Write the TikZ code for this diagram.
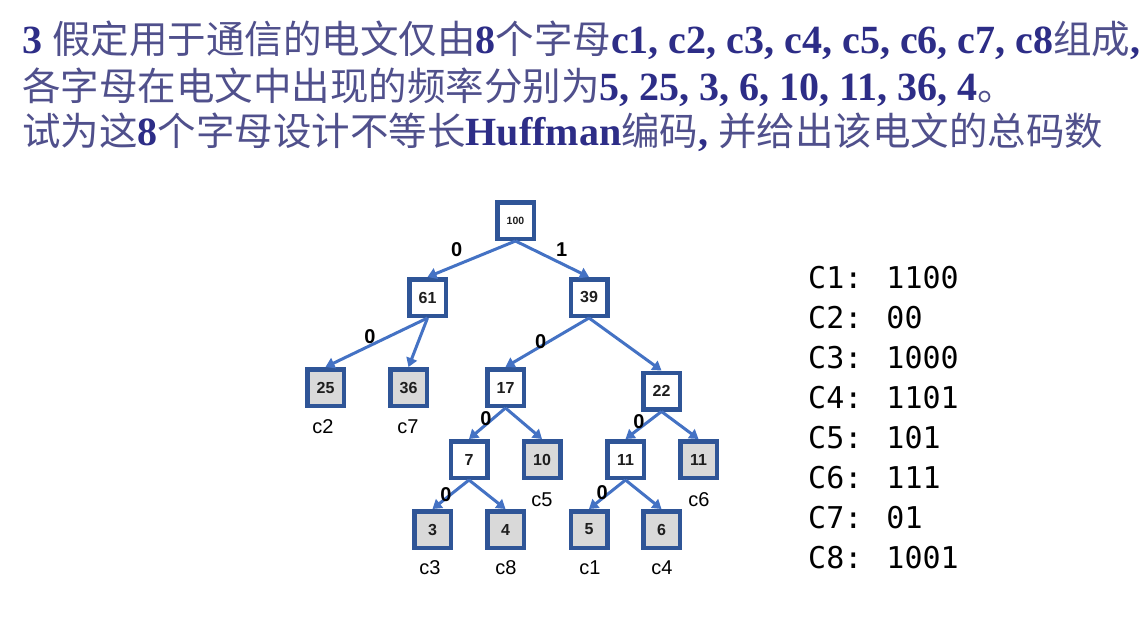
\documentclass[tikz,border=0pt]{standalone}
\usepackage{fontspec}
\setmainfont{Liberation Sans}
\newfontfamily\cjk{Noto Sans CJK SC}
\newfontfamily\latfont{Liberation Serif}
\newfontfamily\monof{DejaVu Sans Mono}
\usetikzlibrary{arrows.meta}
\definecolor{latc}{RGB}{45,45,135}
\definecolor{cjkc}{RGB}{80,80,140}
\definecolor{boxblue}{RGB}{47,85,151}
\definecolor{edgeblue}{RGB}{68,114,196}
\definecolor{leafgray}{RGB}{217,217,217}
\definecolor{numc}{RGB}{30,30,30}
\newcommand\latb[1]{{\latfont\bfseries\fontsize{40}{40}\selectfont\color{latc}#1}}
\tikzset{
  hbox/.style={draw=boxblue, line width=4.5pt, minimum size=36.5pt, inner sep=0pt,
    fill=white, text=numc, font=\bfseries\fontsize{16}{16}\selectfont},
  hleaf/.style={hbox, fill=leafgray},
  hedge/.style={draw=edgeblue, line width=3pt, -{Triangle[length=9pt,width=11pt]}},
  elab/.style={font=\bfseries\fontsize{20}{20}\selectfont, inner sep=0pt},
  clab/.style={font=\fontsize{20}{20}\selectfont, inner sep=0pt},
  codel/.style={anchor=base west, inner sep=0pt, font=\monof\fontsize{30}{30}\selectfont},
  titlel/.style={anchor=base west, inner sep=0pt, font=\cjk\fontsize{38.5}{38.5}\selectfont, text=cjkc}
}
\begin{document}
\begin{tikzpicture}[x=1pt,y=-1pt]
\useasboundingbox[fill=white] (0,0) rectangle (1140,642);
% title
\node[titlel] (t1) at (22,53) {\latb{3 }假定用于通信的电文仅由\latb{8}个字母\latb{c1, c2, c3, c4, c5, c6, c7, c8}组成\latb{,}};
\node[titlel] (t2) at (22,100) {各字母在电文中出现的频率分别为\latb{5, 25, 3, 6, 10, 11, 36, 4}。};
\node[titlel] (t3) at (22,145) {试为这\latb{8}个字母设计不等长\latb{Huffman}编码\latb{, }并给出该电文的总码数};
% tree nodes
\node[hbox, font=\bfseries\fontsize{10.5}{10.5}\selectfont] (n100) at (515.5,220.5) {100};
\node[hbox] (n61) at (427.5,297.5) {61};
\node[hbox] (n39) at (589,297.5) {39};
\node[hleaf] (n25) at (325.5,387.5) {25};
\node[hleaf] (n36) at (408.5,387.5) {36};
\node[hbox] (n17) at (505.5,387.5) {17};
\node[hbox] (n22) at (661.5,391) {22};
\node[hbox] (n7) at (469,459.5) {7};
\node[hleaf] (n10) at (542,459.5) {10};
\node[hbox] (n11a) at (625.5,459.5) {11};
\node[hleaf] (n11b) at (698.5,459.5) {11};
\node[hleaf] (n3) at (432.5,529.5) {3};
\node[hleaf] (n4) at (505.5,529.5) {4};
\node[hleaf] (n5) at (589,529.5) {5};
\node[hleaf] (n6) at (661.5,529.5) {6};
% edges
\draw[hedge] (n100.south) -- (n61.north);
\draw[hedge] (n100.south) -- (n39.north);
\draw[hedge] (n61.south) -- (n25.north);
\draw[hedge] (n61.south) -- (n36.north);
\draw[hedge] (n39.south) -- (n17.north);
\draw[hedge] (n39.south) -- (n22.north);
\draw[hedge] (n17.south) -- (n7.north);
\draw[hedge] (n17.south) -- (n10.north);
\draw[hedge] (n22.south) -- (n11a.north);
\draw[hedge] (n22.south) -- (n11b.north);
\draw[hedge] (n7.south) -- (n3.north);
\draw[hedge] (n7.south) -- (n4.north);
\draw[hedge] (n11a.south) -- (n5.north);
\draw[hedge] (n11a.south) -- (n6.north);
% edge labels
\node[elab] (e1) at (456.7,250) {0};
\node[elab] (e2) at (561.7,250) {1};
\node[elab] (e3) at (370,337) {0};
\node[elab] (e4) at (540.7,342) {0};
\node[elab] (e5) at (486,419) {0};
\node[elab] (e6) at (639,422) {0};
\node[elab] (e7) at (446,495) {0};
\node[elab] (e8) at (602.3,493) {0};
% leaf labels
\node[clab] (l2) at (323,427) {c2};
\node[clab] (l7) at (408,427) {c7};
\node[clab] (l5) at (542,500) {c5};
\node[clab] (l6) at (699,500) {c6};
\node[clab] (l3) at (430,568) {c3};
\node[clab] (l8) at (506,568) {c8};
\node[clab] (l1) at (590,568) {c1};
\node[clab] (l4) at (662,568) {c4};
% codes
\node[codel] (k1) at (808,288) {C1: 1100};
\node[codel] (k2) at (808,328) {C2: 00};
\node[codel] (k3) at (808,368) {C3: 1000};
\node[codel] (k4) at (808,408) {C4: 1101};
\node[codel] (k5) at (808,448) {C5: 101};
\node[codel] (k6) at (808,488) {C6: 111};
\node[codel] (k7) at (808,528) {C7: 01};
\node[codel] (k8) at (808,568) {C8: 1001};
\end{tikzpicture}
\end{document}
